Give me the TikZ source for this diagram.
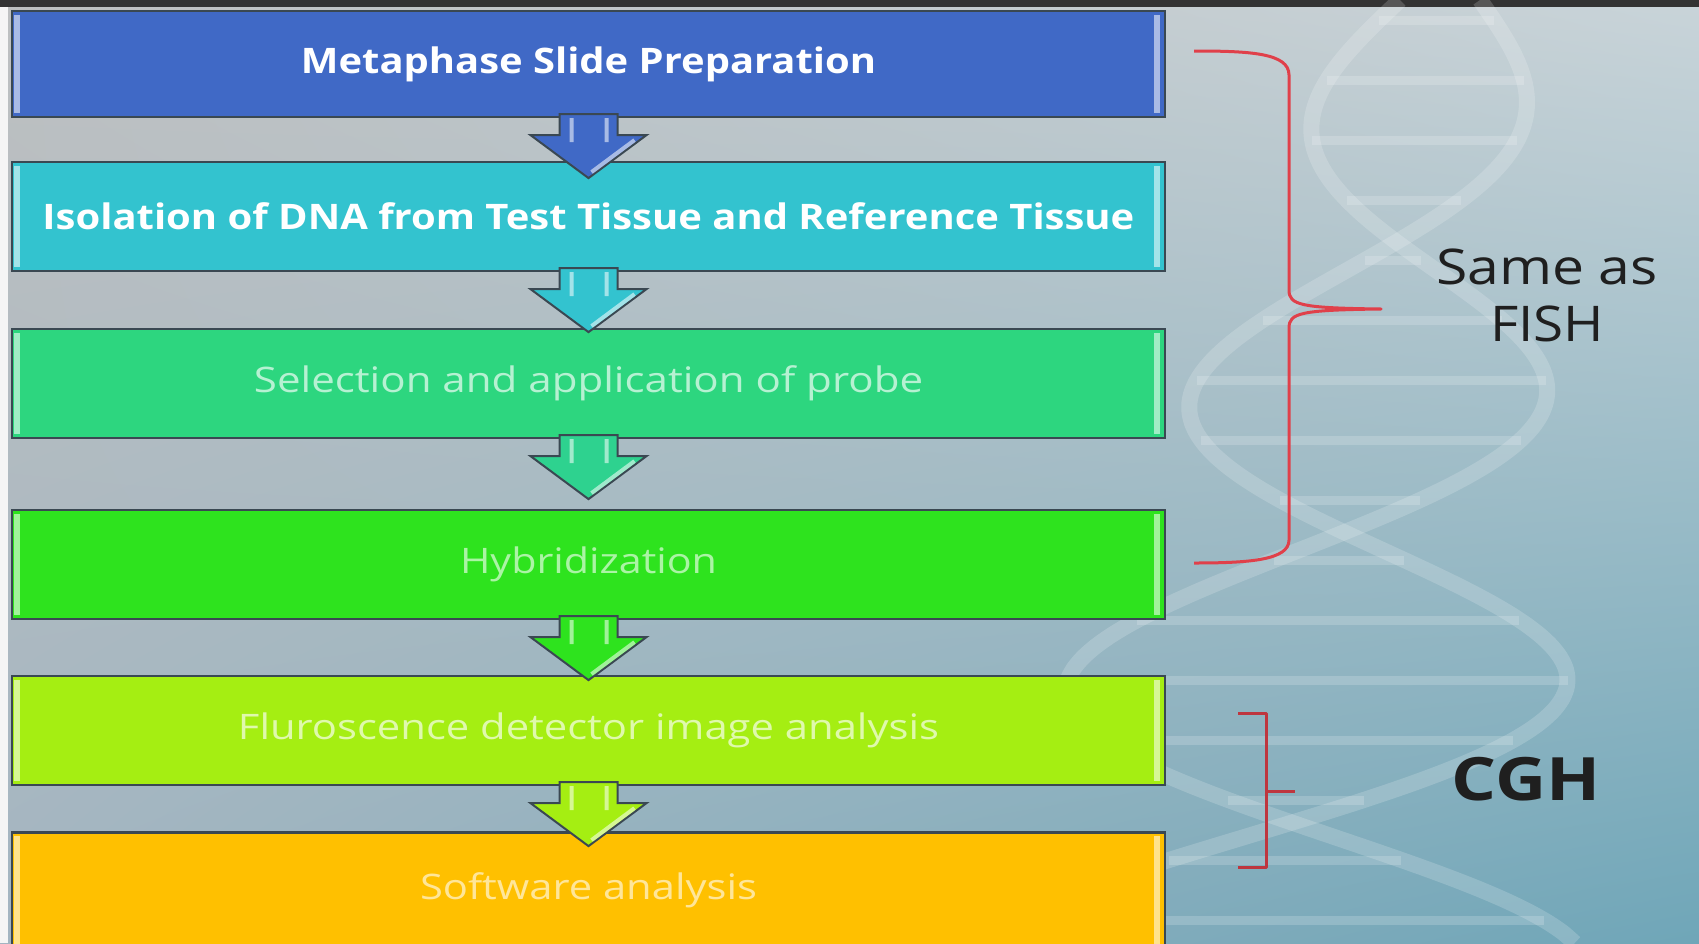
\documentclass[tikz,border=0pt]{standalone}
\usepackage{fontspec}
\setmainfont{Open Sans}
\usetikzlibrary{shadings}

\definecolor{slideblue}{HTML}{4069C6}
\definecolor{slidecyan}{HTML}{33C3CF}
\definecolor{slidemint}{HTML}{2DD67F}
\definecolor{slidegreen}{HTML}{2EE31E}
\definecolor{slidelime}{HTML}{A5EE12}
\definecolor{slideamber}{HTML}{FFC000}
\definecolor{edgegray}{HTML}{3A4852}
\definecolor{bracered}{HTML}{E0404A}
\definecolor{bgul}{HTML}{BEC0C1}
\definecolor{bgur}{HTML}{C9D4D9}
\definecolor{bgll}{HTML}{A3B5C1}
\definecolor{bglr}{HTML}{6FA6B8}

% squeeze a label to a given width, keep its height
\newcommand{\fitw}[2]{\resizebox{#1}{\height}{#2}}
\newcommand{\helixx}[2]{1440-0.18*#1 #2 (80+0.25*#1)*sin(#1*0.62+30)}

\tikzset{
stepbox/.style={draw=edgegray, line width=0.22mm, minimum width=115.3mm,
    minimum height=10.9mm, inner sep=0pt, font=\fontsize{10}{12}\selectfont},
downarrow/.pic={
    \path[pic actions] (-29,-4) -- (-29,17) -- (-58,17) -- (0,60) -- (58,17)
        -- (29,17) -- (29,-4) -- cycle;
    \draw[white, opacity=.55, line width=0.4mm] (-17,0) -- (-17,24)
        (18,0) -- (18,24) (46,22) -- (3,54);},
brace/.style={draw=bracered, line width=0.3mm, line join=round},
sidelabel/.style={text=black!88, align=center}
}

\begin{document}
\begin{tikzpicture}[x=0.1mm, y=-0.1mm]
\useasboundingbox (0,0) rectangle (1699,943);

% backdrop
\shade[upper left=bgul, upper right=bgur, lower left=bgll, lower right=bglr]
    (0,0) rectangle (1699,943);
\fill[black!80] (0,0) rectangle (1699,7);
\fill[white!92!gray] (0,7) rectangle (8,943);

% helix behind the steps
\begin{scope}[white, opacity=.18]
\draw[line width=1.6mm] plot[domain=0:943, samples=90, smooth] ({\helixx{\x}{+}}, \x);
\draw[line width=1.6mm] plot[domain=0:943, samples=90, smooth] ({\helixx{\x}{-}}, \x);
\foreach \y in {20,80,...,940}
    \draw[line width=0.9mm] ({\helixx{\y}{+}},\y) -- ({\helixx{\y}{-}},\y);
\end{scope}

% the steps
\node[stepbox, fill=slideblue, text=white, font=\bfseries\fontsize{10}{12}\selectfont,
    minimum height=10.6mm] (b1) at (588.5,64) {\fitw{57.5mm}{Metaphase Slide Preparation}};
\node[stepbox, fill=slidecyan, text=white, font=\bfseries\fontsize{10}{12}\selectfont]
    (b2) at (588.5,216.5) {\fitw{109.2mm}{Isolation of DNA from Test Tissue and Reference Tissue}};
\node[stepbox, fill=slidemint, text=slidemint!35!white] (b3) at (588.5,383.5)
    {\fitw{66.9mm}{Selection and application of probe}};
\node[stepbox, fill=slidegreen, text=slidegreen!40!white] (b4) at (588.5,564.5)
    {\fitw{25.7mm}{Hybridization}};
\node[stepbox, fill=slidelime, text=slidelime!35!white] (b5) at (588.5,730.5)
    {\fitw{70.1mm}{Fluroscence detector image analysis}};
\node[stepbox, fill=slideamber, text=slideamber!40!white, minimum height=11.5mm]
    (b6) at (588.5,890) {\fitw{33.7mm}{Software analysis}};

% bevel lights on the box sides
\foreach \b/\c in {b1/slideblue, b2/slidecyan, b3/slidemint, b4/slidegreen, b5/slidelime, b6/slideamber}{
    \draw[\c!45!white, line width=0.6mm] ([shift={(0.6mm,-0.5mm)}]\b.north west)
        -- ([shift={(0.6mm,0.5mm)}]\b.south west);
    \draw[\c!45!white, line width=0.6mm] ([shift={(-0.9mm,-0.5mm)}]\b.north east)
        -- ([shift={(-0.9mm,0.5mm)}]\b.south east);
}

% arrows between steps
\pic[fill=slideblue, draw=edgegray, line width=0.2mm] at (b1.south) {downarrow};
\pic[fill=slidecyan, draw=edgegray, line width=0.2mm] at (b2.south) {downarrow};
\pic[fill=slidemint!80!slidecyan, draw=edgegray, line width=0.2mm] at (b3.south) {downarrow};
\pic[fill=slidegreen, draw=edgegray, line width=0.2mm] at (b4.south) {downarrow};
\pic[fill=slidelime, draw=edgegray, line width=0.2mm] at (b5.south) {downarrow};

% braces
\draw[brace] (1194,51) .. controls (1250,51) and (1289,53) .. (1289,75) -- (1289,290)
    .. controls (1289,305) and (1300,308) .. (1381,309)
    .. controls (1300,310) and (1289,313) .. (1289,328) -- (1289,540)
    .. controls (1289,560) and (1250,563) .. (1194,563);
\draw[brace, draw=bracered!85!black] (1238,713) -- (1266,713) -- (1266,867) -- (1238,867);
\draw[brace, draw=bracered!85!black] (1266,791) -- (1295,791);

\node[sidelabel, font=\fontsize{14}{16.2}\selectfont] (fish) at (1547,295)
    {\fitw{22.2mm}{Same as}\\\fitw{11.4mm}{FISH}};
\node[sidelabel, font=\bfseries\fontsize{17}{20}\selectfont] (cgh) at (1526,779)
    {\fitw{14.9mm}{CGH}};

\end{tikzpicture}
\end{document}
